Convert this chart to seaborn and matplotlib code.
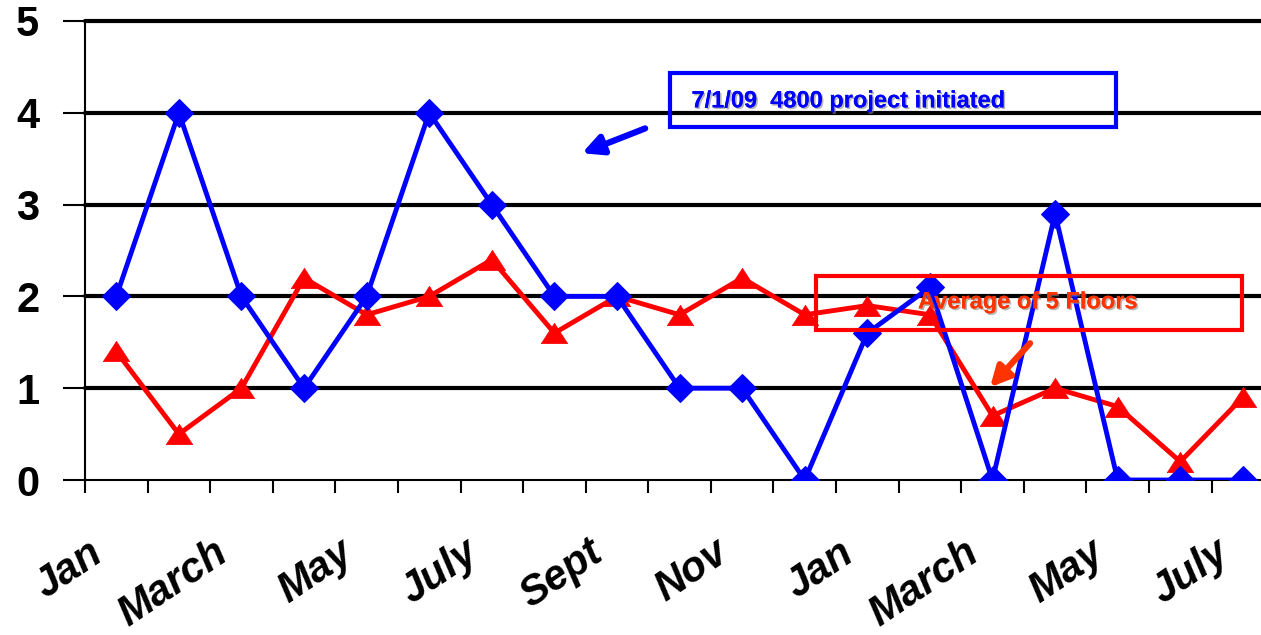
import numpy as np
import pandas as pd
import matplotlib
matplotlib.use("Agg")
import matplotlib.pyplot as plt
import matplotlib.patheffects as pe
import matplotlib.transforms as mtrans
from matplotlib.patches import Rectangle, FancyArrowPatch
import seaborn as sns

# ---- data ----
month_labels = ["Jan", "March", "May", "July", "Sept", "Nov",
                "Jan", "March", "May", "July"]
project_floor = [2, 4, 2, 1, 2, 4, 3, 2, 2, 1, 1, 0, 1.6, 2.1, 0, 2.9, 0, 0, 0]
avg_five_floors = [1.4, 0.5, 1.0, 2.2, 1.8, 2.0, 2.4, 1.6, 2.0, 1.8, 2.2,
                   1.8, 1.9, 1.8, 0.7, 1.0, 0.8, 0.2, 0.9]
y_ticks = [0, 1, 2, 3, 4, 5]
note_blue = "7/1/09  4800 project initiated"
note_red = "Average of 5 Floors"

sns.set_theme(style="white")
plt.rcParams["font.family"] = ["Liberation Sans", "DejaVu Sans"]
plt.rcParams["text.color"] = "black"
plt.rcParams["xtick.color"] = "black"
plt.rcParams["ytick.color"] = "black"

df = pd.DataFrame({
    "idx": np.arange(len(project_floor)),
    "blue": project_floor,
    "red": avg_five_floors,
})

fig = plt.figure(figsize=(12.61, 6.35), dpi=100)
ax = fig.add_axes([85 / 1261, 1 - 480 / 635, 1 - 85 / 1261, (480 - 21) / 635])

wide_triangle = [(-1.3, -1.0), (1.3, -1.0), (0.0, 1.0), (-1.3, -1.0)]

sns.lineplot(data=df, x="idx", y="blue", ax=ax, color="#0000FF", lw=3.5,
             marker="D", markersize=14, markeredgecolor="#0000FF", zorder=4)
sns.lineplot(data=df, x="idx", y="red", ax=ax, color="#FF0000", lw=3.5,
             marker=wide_triangle, markersize=19, markeredgecolor="#FF0000",
             markeredgewidth=0.5, zorder=3)

ax.set_xlabel("")
ax.set_ylabel("")

# y axis
ax.set_yticks(y_ticks)
ax.set_yticklabels([str(v) for v in y_ticks], fontsize=30, fontweight="bold",
                   color="black")
for v in y_ticks[1:]:
    ax.axhline(v, color="black", lw=3.0, zorder=1, clip_on=False)
ax.tick_params(axis="y", which="major", direction="out", length=16, width=1.5,
               color="black", pad=17, left=True)

# x axis: boundary ticks (major) and labels on minor ticks
n = len(project_floor)
ax.set_xticks(np.arange(-0.5, n, 1.0))
ax.set_xticklabels([])
ax.tick_params(axis="x", which="major", direction="out", length=9, width=1.5,
               color="black", bottom=True)
ax.set_xticks(np.arange(0, n, 2), minor=True)
ax.set_xticklabels(month_labels, minor=True, fontsize=30, fontweight="bold",
                   fontstyle="italic", rotation=34, ha="right",
                   rotation_mode="anchor", color="black")
ax.tick_params(axis="x", which="minor", length=0, pad=38)
offset = mtrans.ScaledTranslation(-0.29, 0, fig.dpi_scale_trans)
for lab in ax.get_xticklabels(minor=True):
    lab.set_transform(lab.get_transform() + offset)

ax.set_xlim(-0.5, 18.29)
ax.set_ylim(0, 5)

for s in ["top", "right"]:
    ax.spines[s].set_visible(False)
ax.spines["left"].set_color("black")
ax.spines["left"].set_linewidth(1.5)
ax.spines["bottom"].set_color("black")
ax.spines["bottom"].set_linewidth(1.5)

shadow = [pe.withSimplePatchShadow(offset=(1.2, -1.2), shadow_rgbFace="#888888", alpha=0.6),
          pe.Normal()]

# blue annotation
ax.add_patch(Rectangle((8.85, 3.85), 15.97 - 8.85, 4.43 - 3.85, fill=False,
                       edgecolor="#0000FF", lw=3, zorder=5, clip_on=False))
ax.text(9.19, 4.13, note_blue, color="#0000FF", fontsize=17, fontweight="bold",
        va="center", ha="left", zorder=6, path_effects=shadow)
ax.add_patch(FancyArrowPatch((8.45, 3.83), (7.44, 3.56), arrowstyle="-|>",
                             mutation_scale=30, color="#0000FF", lw=4.5, zorder=6,
                             shrinkA=0, shrinkB=0))

# red annotation
ax.add_patch(Rectangle((11.18, 1.63), 17.99 - 11.18, 2.22 - 1.63, fill=False,
                       edgecolor="#FF0000", lw=3, zorder=5, clip_on=False))
ax.text(12.81, 1.94, note_red, color="#FF3300", fontsize=17, fontweight="bold",
        va="center", ha="left", zorder=6, path_effects=shadow)
ax.add_patch(FancyArrowPatch((14.6, 1.49), (13.96, 1.01), arrowstyle="-|>",
                             mutation_scale=30, color="#FF3300", lw=4.5, zorder=6,
                             shrinkA=0, shrinkB=0))

fig.savefig("out.png", dpi=100)
